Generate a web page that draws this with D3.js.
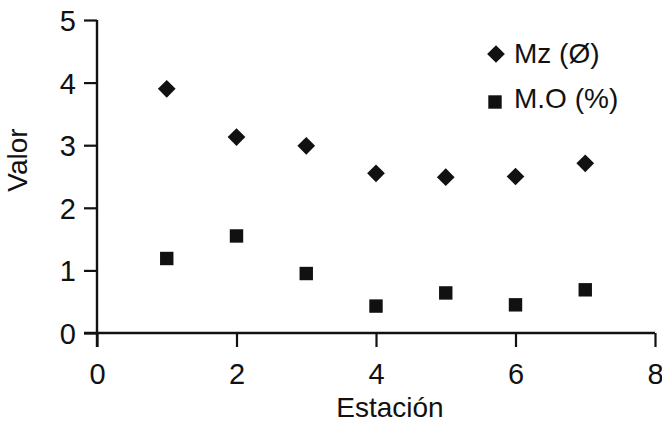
<!DOCTYPE html>
<html><head><meta charset="utf-8">
<script src="https://cdn.jsdelivr.net/npm/d3@7"></script>
<style>body{margin:0;background:#fff}svg{display:block}text{font-family:Arial,"Liberation Sans",sans-serif;fill:#111}</style>
</head><body><svg id="c" width="662" height="422"></svg>
<script>
const estaciones = [1,2,3,4,5,6,7];
const mz = [3.90,3.13,2.99,2.55,2.49,2.50,2.71];
const mo = [1.19,1.55,0.95,0.43,0.64,0.45,0.69];
const xTicks = [0,2,4,6,8];
const yTicks = [0,1,2,3,4,5];
const seriesNames = ["Mz (Ø)","M.O (%)"];

const svg = d3.select("#c");
const x = d3.scaleLinear().domain([0,8]).range([97,655]);
const y = d3.scaleLinear().domain([0,5]).range([333,20]);
const ink = "#111";

const gx = svg.append("g").attr("transform","translate(0,333)")
  .call(d3.axisBottom(x).tickValues(xTicks).tickSize(14).tickPadding(16).tickFormat(d3.format("d")));
gx.select(".domain").attr("d",`M${x(0)-13},0H${x(8)}`).attr("stroke",ink).attr("stroke-width",2.4);
gx.selectAll(".tick line").attr("stroke",ink).attr("stroke-width",2.2);
gx.selectAll(".tick text").attr("font-size",29).style("font-family","Arial, 'Liberation Sans', sans-serif").style("fill",ink);

const gy = svg.append("g").attr("transform","translate(97,0)")
  .call(d3.axisLeft(y).tickValues(yTicks).tickSize(13).tickPadding(8).tickFormat(d3.format("d")));
gy.select(".domain").attr("d",`M0,${y(5)}V${y(0)+14}`).attr("stroke",ink).attr("stroke-width",2.4);
gy.selectAll(".tick line").attr("stroke",ink).attr("stroke-width",2.2);
gy.selectAll(".tick text").attr("font-size",29).attr("dy","0.36em").style("font-family","Arial, 'Liberation Sans', sans-serif").style("fill",ink);

const diamond = d3.symbol().type(d3.symbolDiamond2).size(200);
const square = d3.symbol().type(d3.symbolSquare).size(180);

svg.append("g").selectAll("path").data(estaciones).join("path")
  .attr("d",diamond).attr("fill",ink)
  .attr("transform",(d,i)=>`translate(${x(d)},${y(mz[i])})`);
svg.append("g").selectAll("path").data(estaciones).join("path")
  .attr("d",square).attr("fill",ink)
  .attr("transform",(d,i)=>`translate(${x(d)},${y(mo[i])})`);

// legend
const lg = svg.append("g");
lg.append("path").attr("d",d3.symbol().type(d3.symbolDiamond2).size(200)).attr("fill",ink).attr("transform","translate(496,54)");
lg.append("text").attr("x",514).attr("y",63).attr("font-size",28).text(seriesNames[0]);
lg.append("path").attr("d",d3.symbol().type(d3.symbolSquare).size(180)).attr("fill",ink).attr("transform","translate(495,102)");
lg.append("text").attr("x",514).attr("y",108).attr("font-size",28).text(seriesNames[1]);

svg.append("text").attr("x",390).attr("y",417).attr("text-anchor","middle").attr("font-size",28).text("Estación");
svg.append("text").attr("transform","translate(27,160) rotate(-90)").attr("text-anchor","middle").attr("font-size",28).text("Valor");
</script></body></html>
